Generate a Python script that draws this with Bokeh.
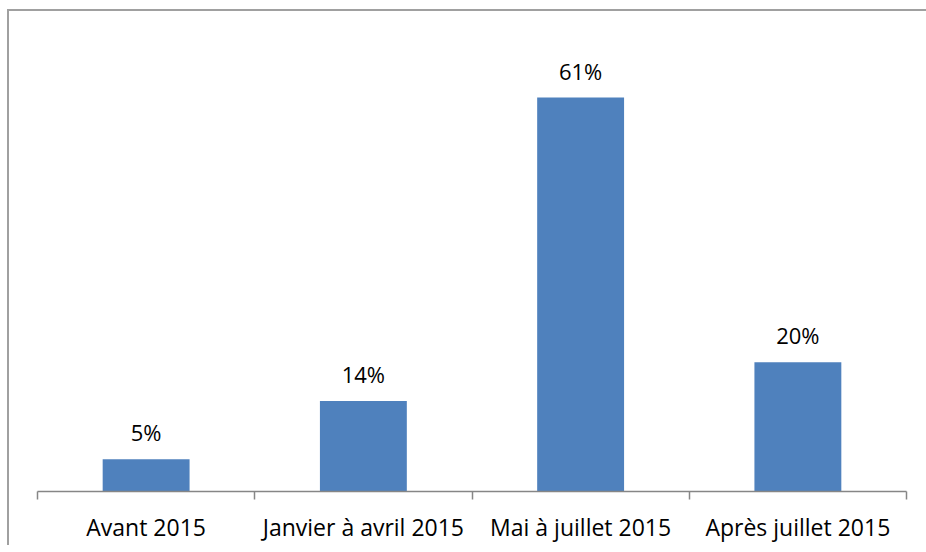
from bokeh.plotting import figure
from bokeh.models import ColumnDataSource, Range1d, FixedTicker, LabelSet
from bokeh.core.properties import value
from bokeh.embed import file_html
from bokeh.resources import INLINE

categories = ["Avant 2015", "Janvier à avril 2015", "Mai à juillet 2015", "Après juillet 2015"]
values = [5, 14, 61, 20]
value_labels = ["5%", "14%", "61%", "20%"]

centers = [i + 0.5 for i in range(len(categories))]
source = ColumnDataSource(dict(x=centers, top=values, label=value_labels))

FONT = "Open Sans"

p = figure(width=917, height=532, output_backend="svg", toolbar_location=None,
           x_range=Range1d(0, len(categories)), y_range=Range1d(0, 70),
           frame_width=869, frame_height=452,
           min_border_left=28, min_border_top=28, min_border_right=20, min_border_bottom=52)
p.styles = {"border-left": "2px solid #a0a0a0", "border-top": "2px solid #a0a0a0",
            "margin-top": "9px", "margin-left": "7px"}

p.vbar(x="x", top="top", width=0.4, source=source, fill_color="#4F81BD", line_color=None)

labels = LabelSet(x="x", y="top", text="label", source=source, y_offset=27,
                  text_align="center", text_baseline="middle",
                  text_font=value(FONT), text_font_size="22px", text_color="#000000")
p.add_layout(labels)

p.grid.visible = False
p.yaxis.visible = False
p.outline_line_color = None

ax = p.xaxis[0]
ax.ticker = FixedTicker(ticks=centers, minor_ticks=list(range(len(categories) + 1)))
ax.major_label_overrides = {c: lab for c, lab in zip(centers, categories)}
ax.major_tick_out = 0
ax.major_tick_in = 0
ax.minor_tick_out = 8
ax.minor_tick_in = 0
ax.axis_line_color = "#868686"
ax.axis_line_width = 1.5
ax.minor_tick_line_color = "#868686"
ax.minor_tick_line_width = 1.5
ax.major_label_text_font = FONT
ax.major_label_text_font_size = "23px"
ax.major_label_text_color = "#000000"
ax.major_label_standoff = 11

open("out.html", "w").write(file_html(p, INLINE))
